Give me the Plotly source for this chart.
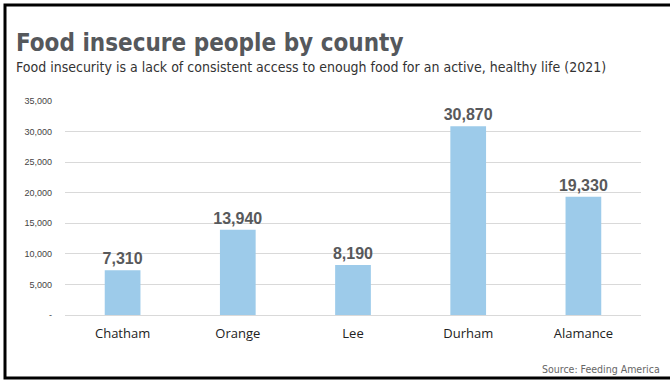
import plotly.graph_objects as go

counties = ["Chatham", "Orange", "Lee", "Durham", "Alamance"]
food_insecure = [7310, 13940, 8190, 30870, 19330]
tick_vals = [0, 5000, 10000, 15000, 20000, 25000, 30000, 35000]
tick_text = ["-", "5,000", "10,000", "15,000", "20,000", "25,000", "30,000", "35,000"]

W, H = 670, 380
L, R, T, B = 65, 641, 101, 315

def px(x):
    return (x - L) / (R - L)

def py(y):
    return (B - y) / (B - T)

fig = go.Figure(go.Bar(
    x=counties, y=food_insecure,
    marker=dict(color="#9dcbea", line=dict(width=0)),
    text=[f"{v:,}" for v in food_insecure],
    textposition="outside",
    constraintext="none",
    textfont=dict(family="Liberation Sans", size=16, color="#58595b", weight="bold"),
    cliponaxis=False,
))

fig.update_layout(
    width=W, height=H,
    margin=dict(l=L, r=W - R, t=T, b=H - B, pad=0),
    paper_bgcolor="white", plot_bgcolor="white",
    bargap=0.69,
    showlegend=False,
    xaxis=dict(showgrid=False, showline=False, ticks="", ticklabelstandoff=9,
               tickfont=dict(family="Open Sans", size=13, color="#222222")),
    yaxis=dict(range=[0, 35000], tickvals=tick_vals, ticktext=tick_text,
               showgrid=True, gridcolor="#d9d9d9", gridwidth=1,
               zeroline=True, zerolinecolor="#d9d9d9", zerolinewidth=1,
               showline=False, ticks="", ticklabelstandoff=12,
               tickfont=dict(family="Liberation Sans", size=9, color="#444444")),
    shapes=[
        dict(type="rect", xref="paper", yref="paper",
             x0=px(5), x1=px(700), y0=py(378), y1=py(5),
             line=dict(color="black", width=3), fillcolor="rgba(0,0,0,0)"),
    ],
    annotations=[
        dict(text="<b>Food insecure people by county</b>", xref="paper", yref="paper",
             x=px(14), y=py(43), xanchor="left", yanchor="middle", showarrow=False,
             font=dict(family="DejaVu Sans Condensed", size=24, color="#55585c")),
        dict(text="Food insecurity is a lack of consistent access to enough food for an active, healthy life (2021)",
             xref="paper", yref="paper",
             x=px(14), y=py(67), xanchor="left", yanchor="middle", showarrow=False,
             font=dict(family="DejaVu Sans Condensed", size=14, color="#333333")),
        dict(text="Source: Feeding America", xref="paper", yref="paper",
             x=px(662), y=py(369), xanchor="right", yanchor="middle", showarrow=False,
             font=dict(family="DejaVu Sans Condensed", size=10.5, color="#666666")),
    ],
)

fig.write_html("out.html", config={"displayModeBar": False},
               post_script="document.body.style.margin='0';document.body.style.overflow='hidden';")
